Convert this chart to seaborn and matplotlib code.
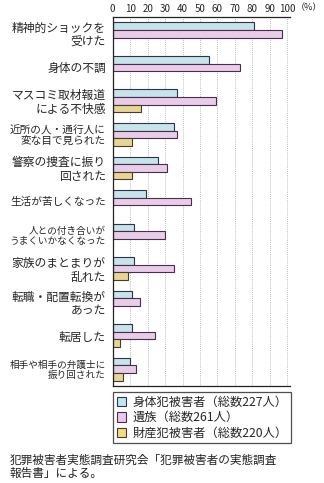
import numpy as np
import pandas as pd
import matplotlib
matplotlib.use("Agg")
import matplotlib.pyplot as plt
from matplotlib.patches import Patch
import seaborn as sns

categories = [
    "精神的ショックを\n受けた",
    "身体の不調",
    "マスコミ取材報道\nによる不快感",
    "近所の人・通行人に\n変な目で見られた",
    "警察の捜査に振り\n回された",
    "生活が苦しくなった",
    "人との付き合いが\nうまくいかなくなった",
    "家族のまとまりが\n乱れた",
    "転職・配置転換が\nあった",
    "転居した",
    "相手や相手の弁護士に\n振り回された",
]
series_names = [
    "身体犯被害者（総数227人）",
    "遺族（総数261人）",
    "財産犯被害者（総数220人）",
]
body_victims = [81, 55, 37, 35, 26, 19, 12, 12, 11, 11, 10]
bereaved = [97, 73, 59, 37, 31, 45, 30, 35, 15.5, 24, 13.5]
property_victims = [np.nan, np.nan, 16, 11, 11, np.nan, np.nan, 9, np.nan, 4, 6]
x_ticks = [0, 10, 20, 30, 40, 50, 60, 70, 80, 90, 100]
unit_label = "（%）"
source_note = "犯罪被害者実態調査研究会「犯罪被害者の実態調査\n報告書」による。"

colors = ["#c2e6ef", "#ecc8ec", "#f1dc8e"]
edges = ["#2c3446", "#4a2c4c", "#4a3c24"]

df = pd.DataFrame({
    "item": categories * 3,
    "series": sum([[s] * len(categories) for s in series_names], []),
    "value": body_victims + bereaved + property_victims,
})

sns.set_style("white")
plt.rcParams["font.family"] = ["Noto Sans CJK JP", "DejaVu Sans"]

W, H = 324, 483
fig = plt.figure(figsize=(W / 100, H / 100), dpi=100)
x0, x100 = 112.7, 287.3
xmax = 101.5
ppu = (x100 - x0) / 100
ax_top, ax_bot = 17, 386
ax = fig.add_axes([x0 / W, 1 - ax_bot / H, xmax * ppu / W, (ax_bot - ax_top) / H])

sns.barplot(data=df, x="value", y="item", hue="series", hue_order=series_names,
            order=categories, orient="h", palette=colors, width=0.68, gap=0,
            edgecolor="#303040", linewidth=0.8, legend=False, ax=ax, errorbar=None)

for i, cont in enumerate(ax.containers):
    for p in cont.patches:
        p.set_edgecolor(edges[i])

ax.set_xlim(0, xmax)
ax.set_ylim(len(categories) - 0.5, -0.5)
ax.xaxis.tick_top()
ax.set_xticks(x_ticks)
ax.set_xticklabels([str(t) for t in x_ticks], fontsize=7)
ax.tick_params(axis="x", length=0, pad=2)
ax.tick_params(axis="y", length=0, pad=5)
ax.set_xlabel("")
ax.set_ylabel("")
for t in x_ticks[1:]:
    ax.axvline(t, color="#a8a8a8", lw=0.6, ls=(0, (1, 1.5)), zorder=0)

ax.set_yticks(range(len(categories)))
ax.set_yticklabels(categories)
for lab, c in zip(ax.get_yticklabels(), categories):
    maxlen = max(len(s) for s in c.split("\n"))
    lab.set_fontsize(min(8.5, 96 / maxlen / 1.389))
    lab.set_linespacing(1.05)
    lab.set_ha("right")

for side in ["left", "top", "bottom"]:
    ax.spines[side].set_visible(True)
    ax.spines[side].set_color("#222222")
    ax.spines[side].set_linewidth(0.9)
ax.spines["right"].set_visible(False)

fig.text(296 / W, 1 - 8 / H, unit_label, fontsize=6.5, ha="left", va="center",
         color="#222222")

handles = [Patch(facecolor=colors[i], edgecolor=edges[i], linewidth=0.8) for i in range(3)]
leg = fig.legend(handles, series_names, loc="upper left",
                 bbox_to_anchor=(113 / W, 1 - 392 / H), bbox_transform=fig.transFigure,
                 frameon=True, fancybox=False, fontsize=8.8, handlelength=0.8,
                 handleheight=0.8, handletextpad=0.5, borderpad=0.3,
                 labelspacing=0.2, borderaxespad=0)
leg.get_frame().set_edgecolor("#222222")
leg.get_frame().set_linewidth(0.9)

fig.text(10 / W, 1 - 454 / H, source_note, fontsize=8.4, ha="left", va="top",
         linespacing=1.0, color="#222222")

fig.savefig("out.png", dpi=100, facecolor="white")
